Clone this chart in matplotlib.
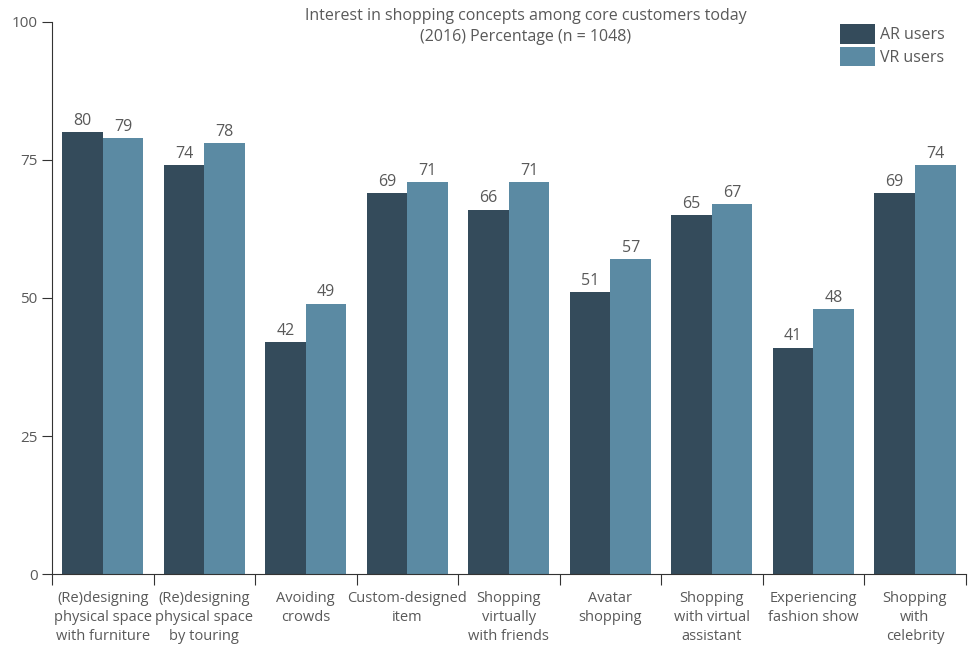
import matplotlib.pyplot as plt
import numpy as np

categories = ["(Re)designing\nphysical space\nwith furniture",
              "(Re)designing\nphysical space\nby touring",
              "Avoiding\ncrowds",
              "Custom-designed\nitem",
              "Shopping\nvirtually\nwith friends",
              "Avatar\nshopping",
              "Shopping\nwith virtual\nassistant",
              "Experiencing\nfashion show",
              "Shopping\nwith\ncelebrity"]
ar_users = [80, 74, 42, 69, 66, 51, 65, 41, 69]
vr_users = [79, 78, 49, 71, 71, 57, 67, 48, 74]
yticks = [0, 25, 50, 75, 100]

plt.rcParams['font.family'] = ['Open Sans', 'DejaVu Sans']
grey = '#595959'
ar_col = '#344b5b'
vr_col = '#5b8aa3'

fig = plt.figure(figsize=(9.72, 6.45), dpi=100)
ax = fig.add_axes([0.0535, 0.110, 0.940, 0.856])

x = np.arange(len(categories))
w = 0.4
b1 = ax.bar(x - w/2, ar_users, w, color=ar_col, label='AR users')
b2 = ax.bar(x + w/2, vr_users, w, color=vr_col, label='VR users')
for bars, vals in ((b1, ar_users), (b2, vr_users)):
    for r, v in zip(bars, vals):
        ax.text(r.get_x() + r.get_width()/2, v + 0.6, str(v), ha='center', va='bottom',
                fontsize=11.5, color=grey)

ax.set_xlim(-0.5, len(categories) - 0.5)
ax.set_ylim(0, 100)
ax.set_yticks(yticks)
ax.set_xticks(np.arange(len(categories) + 1) - 0.5)
ax.set_xticklabels([])
ax.set_xticks(x, minor=True)
ax.set_xticklabels(categories, minor=True, fontsize=10.5, color=grey, linespacing=1.38)
ax.tick_params(axis='x', which='minor', length=0, pad=12)
ax.tick_params(axis='x', which='major', length=8, color='#333333')
ax.tick_params(axis='y', length=7, color='#333333', labelsize=11, labelcolor=grey)
for s in ('top', 'right'):
    ax.spines[s].set_visible(False)
for s in ('left', 'bottom'):
    ax.spines[s].set_color('#333333')

fig.text(0.541, 0.959, "Interest in shopping concepts among core customers today\n(2016) Percentage (n = 1048)",
         ha='center', va='center', fontsize=11.5, color=grey, linespacing=1.45)

ax.legend(loc='upper right', bbox_to_anchor=(0.993, 1.022), frameon=False, fontsize=11.5,
          handlelength=2.2, handleheight=1.5, handletextpad=0.3, labelspacing=0.2,
          labelcolor=grey)

fig.savefig('out.png', dpi=100)
